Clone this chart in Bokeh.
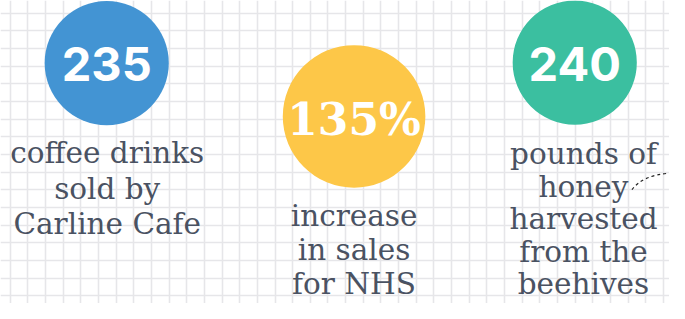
import numpy as np
from bokeh.plotting import figure
from bokeh.models import Range1d, FixedTicker
from bokeh.core.properties import value
from bokeh.embed import file_html
from bokeh.resources import INLINE

# ---- data ----
stat_values = ["235", "135%", "240"]
stat_labels = [
    ["coffee drinks", "sold by", "Carline Cafe"],
    ["increase", "in sales", "for NHS"],
    ["pounds of", "honey", "harvested", "from the", "beehives"],
]
stat_colors = ["#4394d3", "#fdc748", "#3bbfa0"]

# ---- layout (reference pixel coordinates, uniformly scaled to fit) ----
W, H = 669, 303
S = 0.97
circle_x = [109.5, 364.5, 592]
circle_y = [64.5, 119.5, 64]
circle_r = [64, 73.5, 64]
label_x = [110, 364.5, 601]
label_first_base = [167, 232, 168]
label_step = [36.5, 35, 33.5]
label_shift = -9.5
num_fonts = ["Inter", "DejaVu Serif", "Inter"]
num_sizes = ["47px", "44px", "47px"]
num_dy = [1, 3, 1]

p = figure(width=W, height=H, output_backend="svg", toolbar_location=None,
           x_range=Range1d(0, W / S), y_range=Range1d(H / S, 0),
           min_border=0, outline_line_color=None)
p.axis.visible = False
p.background_fill_color = "white"
p.border_fill_color = "white"

gx = 10 + 18.2 * np.arange(-1, 40)
gy = 268 - 18.2 * np.arange(-4, 20)
p.xgrid.ticker = FixedTicker(ticks=list(gx))
p.ygrid.ticker = FixedTicker(ticks=list(gy))
for g in (p.xgrid, p.ygrid):
    g.grid_line_color = "#e6e6e9"
    g.grid_line_width = 1.6

p.circle(x=circle_x, y=circle_y, radius=circle_r, fill_color=stat_colors,
         line_color=None)

for i, v in enumerate(stat_values):
    p.text(x=[circle_x[i]], y=[circle_y[i] + num_dy[i]], text=[v],
           text_font=value(num_fonts[i]), text_font_size=num_sizes[i],
           text_font_style="bold", text_color="white",
           text_align="center", text_baseline="middle")

for i, lines in enumerate(stat_labels):
    ys = [label_first_base[i] + label_shift + k * label_step[i]
          for k in range(len(lines))]
    p.text(x=[label_x[i]] * len(lines), y=ys, text=lines,
           text_font=value("DejaVu Serif"), text_font_size="29.5px",
           text_color="#4a5262", text_align="center",
           text_baseline="alphabetic")

# dashed decorative curve near "honey"
p.quadratic(x0=[651], y0=[195], x1=[690], y1=[178], cx=[662], cy=[180],
            line_color="#222222", line_width=1.2, line_dash="3 3")

open("out.html", "w").write(file_html(p, INLINE))
